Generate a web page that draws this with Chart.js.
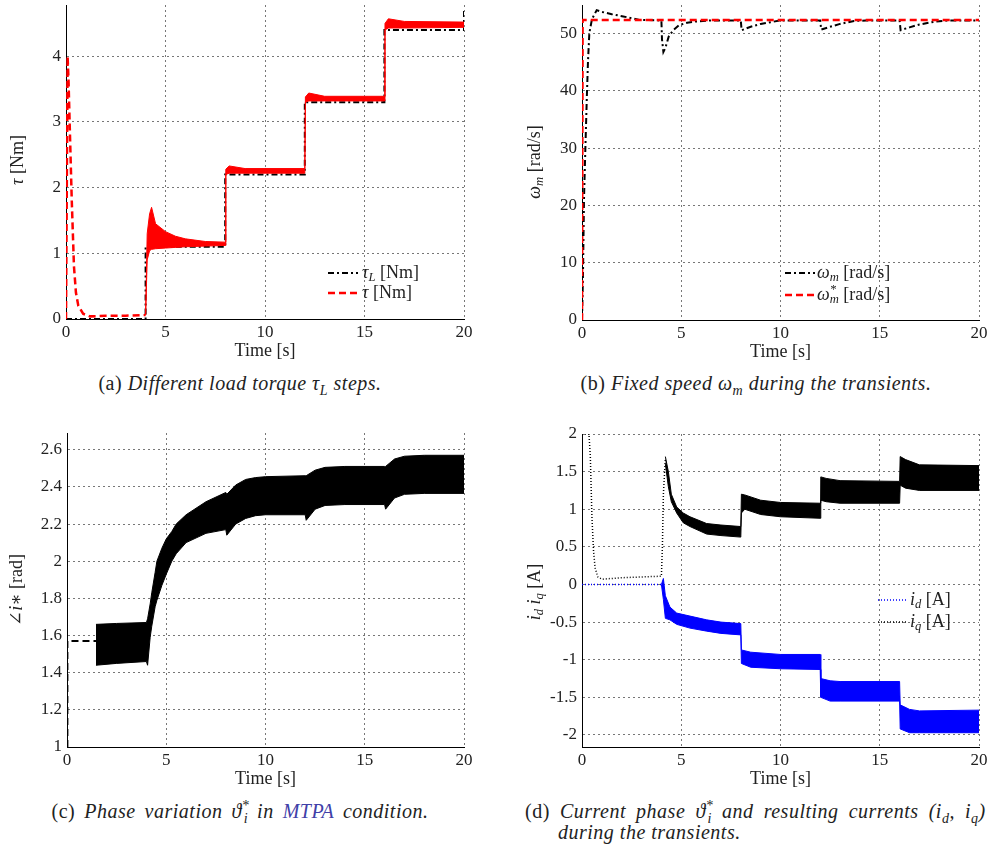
<!DOCTYPE html>
<html>
<head>
<meta charset="utf-8">
<title>Transients</title>
<script src="https://cdn.jsdelivr.net/npm/chart.js@4.4.1/dist/chart.umd.min.js"></script>
<style>
  body { margin: 0; background: #fff; }
  #page { position: relative; width: 990px; height: 852px; overflow: hidden; font-family: 'Liberation Serif', 'DejaVu Serif', serif; color: #222; }
  canvas { position: absolute; }
  .cap { position: absolute; font-size: 20px; letter-spacing: 0.5px; white-space: nowrap; line-height: 22px; }
  .cap sub, .cap sup { font-size: 0.7em; line-height: 0; }
  .link { color: #4040a8; }
</style>
</head>
<body>
<div id="page">
  <canvas id="chartA" width="480" height="370" style="left:0;top:0"></canvas>
  <canvas id="chartB" width="500" height="370" style="left:490px;top:0"></canvas>
  <canvas id="chartC" width="480" height="370" style="left:0;top:420px"></canvas>
  <canvas id="chartD" width="500" height="370" style="left:490px;top:420px"></canvas>
  <div class="cap" style="left:240px;top:372px;transform:translateX(-50%)">(a) <i>Different load torque τ<sub>L</sub> steps.</i></div>
  <div class="cap" style="left:756px;top:372px;transform:translateX(-50%)">(b) <i>Fixed speed ω<sub>m</sub> during the transients.</i></div>
  <div class="cap" style="left:240px;top:800px;transform:translateX(-50%);word-spacing:3.5px">(c) <i>Phase variation ϑ<sup>*</sup><sub style="margin-left:-0.4em">i</sub> in <span class="link">MTPA</span> condition.</i></div>
  <div class="cap" style="left:525px;top:800px;word-spacing:4.6px">(d) <i>Current phase ϑ<sup>*</sup><sub style="margin-left:-0.4em">i</sub> and resulting currents (i<sub>d</sub>, i<sub>q</sub>)</i></div>
  <div class="cap" style="left:558px;top:821px"><i>during the transients.</i></div>
</div>
<script>
const FONT = "'Liberation Serif', 'DejaVu Serif', serif";
const INK = '#222';
const GRID = '#777';
const DASHDOT = [6, 3, 2, 3];
const DASHED = [7, 4];
const DOTTED = [1, 2];

// (a) carico tau_L e coppia tau
const tauLTime = [0, 4, 4, 8, 8, 12, 12, 16, 16, 20, 20];
const tauLVal = [0, 0, 1.1, 1.1, 2.2, 2.2, 3.3, 3.3, 4.4, 4.4, 4.72];
const tauTime = [0, 0.08, 0.13, 0.2, 0.29, 0.4, 0.5, 0.62, 0.86, 1.2, 2, 3, 4];
const tauVal = [0, 4.0, 3.6, 2.8, 1.8, 0.8, 0.4, 0.2, 0.08, 0.04, 0.05, 0.05, 0.06];
const tauBandTime = [4.0, 4.08, 4.2, 4.3, 4.5, 5.0, 5.5, 6.0, 7.0, 8.0, 8.03, 8.2, 9, 12.0, 12.03, 12.2, 13, 16.0, 16.03, 16.2, 17, 20];
const tauBandHigh = [0.06, 1.3, 1.6, 1.7, 1.45, 1.33, 1.26, 1.22, 1.18, 1.17, 2.28, 2.33, 2.29, 2.29, 3.38, 3.44, 3.39, 3.39, 4.5, 4.57, 4.53, 4.52];
const tauBandLow = [0.06, 0.9, 1.04, 1.06, 1.07, 1.08, 1.09, 1.1, 1.11, 1.12, 2.2, 2.22, 2.22, 2.22, 3.3, 3.32, 3.32, 3.32, 4.4, 4.43, 4.43, 4.44];

// (b) velocita
const wRefTime = [0, 0.03, 20];
const wRefVal = [0, 52.36, 52.36];
const wTime = [0, 0.05, 0.1, 0.17, 0.24, 0.3, 0.37, 0.5, 0.74, 1.0, 1.5, 2.08, 2.9, 4.0, 4.03, 4.1, 4.2, 4.37, 4.6, 4.9, 5.3, 5.7, 6.5, 8.0, 8.04, 8.5, 9.0, 9.5, 10.0, 12.0, 12.05, 12.5, 13.0, 13.7, 14.3, 16.0, 16.05, 16.5, 17.0, 17.8, 18.5, 20];
const wVal = [0, 8, 21, 30, 38.5, 45, 50.1, 52.5, 54.1, 53.8, 53.4, 53.0, 52.4, 52.3, 49, 46.8, 47.5, 49.5, 50.6, 51.5, 51.9, 52.1, 52.3, 52.3, 50.6, 51.2, 51.7, 52.0, 52.3, 52.3, 50.7, 51.2, 51.7, 52.2, 52.3, 52.3, 50.6, 51.1, 51.6, 52.1, 52.3, 52.3];

// (c) fase della corrente
const angTime = [0.02, 0.02, 1.46];
const angVal = [1.0, 1.57, 1.57];
const angBandTime = [1.46, 2.5, 4.0, 4.06, 4.19, 4.27, 4.44, 4.53, 4.78, 5.0, 5.28, 5.5, 6.0, 7.0, 8.0, 8.05, 8.5, 9.0, 9.5, 10, 12.0, 12.05, 12.5, 13, 14, 16.0, 16.05, 16.5, 17, 18, 20];
const angBandHigh = [1.66, 1.665, 1.67, 1.69, 1.77, 1.83, 1.94, 2.0, 2.07, 2.12, 2.16, 2.2, 2.25, 2.32, 2.37, 2.36, 2.41, 2.44, 2.45, 2.455, 2.46, 2.46, 2.49, 2.505, 2.51, 2.51, 2.51, 2.55, 2.565, 2.57, 2.57];
const angBandLow = [1.44, 1.45, 1.46, 1.44, 1.59, 1.65, 1.755, 1.79, 1.87, 1.93, 2.0, 2.04, 2.1, 2.15, 2.17, 2.14, 2.2, 2.23, 2.245, 2.25, 2.25, 2.22, 2.28, 2.3, 2.305, 2.305, 2.28, 2.34, 2.36, 2.365, 2.365];

// (d) correnti id, iq
const iqTime = [0, 0.35, 0.42, 0.5, 0.58, 0.66, 0.8, 1.0, 2.0, 3.0, 4.0, 4.05, 4.1, 4.2];
const iqVal = [2.0, 2.0, 1.7, 0.9, 0.45, 0.22, 0.1, 0.07, 0.09, 0.1, 0.11, 0.5, 1.2, 1.68];
const iqBandTime = [4.2, 4.35, 4.5, 4.77, 5.1, 5.44, 6.28, 7.0, 8.0, 8.03, 8.2, 9, 10, 12.0, 12.03, 12.3, 13, 16.0, 16.03, 16.3, 17, 20];
const iqBandHigh = [1.7, 1.5, 1.2, 1.03, 0.95, 0.9, 0.81, 0.79, 0.77, 1.2, 1.19, 1.12, 1.09, 1.08, 1.43, 1.41, 1.38, 1.37, 1.70, 1.66, 1.59, 1.58];
const iqBandLow = [1.6, 1.3, 1.1, 0.95, 0.82, 0.77, 0.67, 0.65, 0.63, 0.95, 1.0, 0.93, 0.9, 0.88, 1.12, 1.1, 1.08, 1.08, 1.32, 1.28, 1.25, 1.25];
const idTime = [0, 4.0];
const idVal = [0, 0];
const idBandTime = [4.0, 4.1, 4.2, 4.43, 4.77, 5.44, 6.28, 7.0, 8.0, 8.03, 8.5, 10, 12.0, 12.03, 12.5, 13, 16.0, 16.03, 16.5, 17, 20];
const idBandHigh = [0, 0.08, -0.15, -0.3, -0.38, -0.42, -0.47, -0.5, -0.52, -0.87, -0.9, -0.93, -0.93, -1.25, -1.28, -1.29, -1.29, -1.6, -1.66, -1.68, -1.67];
const idBandLow = [0, -0.2, -0.45, -0.47, -0.53, -0.58, -0.62, -0.65, -0.67, -1.05, -1.1, -1.12, -1.13, -1.5, -1.55, -1.55, -1.55, -1.92, -1.97, -1.97, -1.97];

const pts = (xs, ys) => xs.map((x, i) => ({ x: x, y: ys[i] }));

function line(xs, ys, color, dash, width) {
    return { data: pts(xs, ys), borderColor: color, borderDash: dash, borderWidth: width, fill: false };
}

// banda di oscillazione: bordo alto + bordo basso riempito fino al precedente
function band(xs, hi, lo, color) {
    return [
        { data: pts(xs, hi), borderColor: color, borderWidth: 1, fill: false },
        { data: pts(xs, lo), borderColor: color, borderWidth: 1, backgroundColor: color, fill: '-1' }
    ];
}

// testo con pedici / apici: [testo, stile] n=normale i=corsivo b=pedice p=apice
function drawRuns(ctx, runs, x, y, size, draw) {
    let cx = x, supX = null;
    for (const [t, s] of runs) {
        const small = s === 'b' || s === 'p';
        const fs = small ? size * 0.7 : size;
        ctx.font = (s === 'n' ? '' : 'italic ') + fs + 'px ' + FONT;
        const w = ctx.measureText(t).width;
        let dx = cx, dy = 0;
        if (s === 'b') { dy = size * 0.28; if (supX !== null) dx = supX; }
        if (s === 'p') dy = -size * 0.32;
        if (draw) ctx.fillText(t, dx, y + dy);
        if (s === 'p') { supX = cx; cx += w; }
        else if (s === 'b' && supX !== null) { cx = Math.max(cx, supX + w); supX = null; }
        else { cx += w; supX = null; }
    }
    return cx - x;
}

function textPlugin(cfg) {
    return {
        id: 'texts',
        afterDraw(chart) {
            const ctx = chart.ctx;
            ctx.save();
            ctx.fillStyle = INK;
            ctx.textBaseline = 'middle';
            ctx.textAlign = 'left';
            const w = drawRuns(ctx, cfg.yTitle, 0, 0, 18, false);
            ctx.save();
            ctx.translate(cfg.yTitleAt[0], cfg.yTitleAt[1]);
            ctx.rotate(-Math.PI / 2);
            drawRuns(ctx, cfg.yTitle, -w / 2, 0, 18, true);
            ctx.restore();
            (cfg.legend || []).forEach(e => {
                ctx.save();
                ctx.strokeStyle = e.color;
                ctx.lineWidth = e.width;
                ctx.setLineDash(e.dash);
                ctx.beginPath();
                ctx.moveTo(cfg.legendX[0], e.y);
                ctx.lineTo(cfg.legendX[1], e.y);
                ctx.stroke();
                ctx.restore();
                drawRuns(ctx, e.label, cfg.legendX[2], e.y, 18, true);
            });
            ctx.restore();
        }
    };
}

function buildChart(id, box, yAxis, datasets, texts) {
    const canvas = document.getElementById(id);
    const W = canvas.width, H = canvas.height;
    const tickFont = { family: FONT, size: 17 };
    const grid = { color: GRID, lineWidth: 1, drawTicks: false };
    const border = { color: '#000', width: 1, dash: [2, 3] };
    return new Chart(canvas, {
        type: 'line',
        data: { datasets: datasets },
        options: {
            responsive: false,
            animation: false,
            devicePixelRatio: 1,
            layout: { padding: { left: 0, top: box.top, right: W - box.right, bottom: 0 } },
            plugins: { legend: { display: false }, tooltip: { enabled: false } },
            elements: { point: { radius: 0 }, line: { tension: 0 } },
            scales: {
                x: {
                    type: 'linear', min: 0, max: 20,
                    afterFit: s => { s.height = H - box.bottom; s.paddingLeft = 0; s.paddingRight = 0; },
                    ticks: { stepSize: 5, includeBounds: false, padding: 3, color: INK, font: tickFont, maxRotation: 0 },
                    grid: grid,
                    border: border,
                    title: { display: true, text: 'Time [s]', color: INK, font: { family: FONT, size: 18 },
                             padding: { top: 0, bottom: H - box.bottom - 32.5 - 10.8 } }
                },
                y: {
                    type: 'linear', min: yAxis.min, max: yAxis.max,
                    afterFit: s => { s.width = box.left; s.paddingTop = 0; s.paddingBottom = 0; },
                    ticks: { stepSize: yAxis.step, includeBounds: false, padding: 5, color: INK, font: tickFont,
                             callback: v => String(+v.toFixed(2)) },
                    grid: grid,
                    border: border
                }
            }
        },
        plugins: [textPlugin(texts)]
    });
}

// (a)
buildChart('chartA', { left: 66, top: 5, right: 464, bottom: 319 }, { min: 0, max: 4.78, step: 1 }, [
    line(tauTime, tauVal, '#ff0000', DASHED, 2.5),
    ...band(tauBandTime, tauBandHigh, tauBandLow, '#ff0000'),
    line(tauLTime, tauLVal, '#000', DASHDOT, 2)
], {
    yTitle: [['τ', 'i'], [' [Nm]', 'n']], yTitleAt: [18, 160],
    legendX: [328, 358, 362],
    legend: [
        { y: 273, color: '#000', dash: DASHDOT, width: 2, label: [['τ', 'i'], ['L', 'b'], [' [Nm]', 'n']] },
        { y: 293, color: '#ff0000', dash: DASHED, width: 2.5, label: [['τ', 'i'], [' [Nm]', 'n']] }
    ]
});

// (b)
buildChart('chartB', { left: 92, top: 5, right: 489, bottom: 320 }, { min: 0, max: 55, step: 10 }, [
    line(wRefTime, wRefVal, '#ff0000', DASHED, 2.5),
    line(wTime, wVal, '#000', DASHDOT, 2)
], {
    yTitle: [['ω', 'i'], ['m', 'b'], [' [rad/s]', 'n']], yTitleAt: [45, 162],
    legendX: [295, 325, 327],
    legend: [
        { y: 273, color: '#000', dash: DASHDOT, width: 2, label: [['ω', 'i'], ['m', 'b'], [' [rad/s]', 'n']] },
        { y: 295, color: '#ff0000', dash: DASHED, width: 2.5, label: [['ω', 'i'], ['*', 'p'], ['m', 'b'], [' [rad/s]', 'n']] }
    ]
});

// (c)
buildChart('chartC', { left: 67, top: 13, right: 464, bottom: 327 }, { min: 1, max: 2.69, step: 0.2 }, [
    ...band(angBandTime, angBandHigh, angBandLow, '#000'),
    line(angTime, angVal, '#000', DASHED, 2)
], {
    yTitle: [['∠', 'n'], ['i∗', 'i'], [' [rad]', 'n']], yTitleAt: [17, 170]
});

// (d)
buildChart('chartD', { left: 92, top: 14, right: 489, bottom: 327 }, { min: -2.16, max: 2, step: 0.5 }, [
    line(idTime, idVal, '#0000ff', DOTTED, 1.5),
    ...band(idBandTime, idBandHigh, idBandLow, '#0000ff'),
    line(iqTime, iqVal, '#000', DOTTED, 1.5),
    ...band(iqBandTime, iqBandHigh, iqBandLow, '#000')
], {
    yTitle: [['i', 'i'], ['d', 'b'], [' i', 'i'], ['q', 'b'], [' [A]', 'n']], yTitleAt: [45, 172],
    legendX: [388, 417, 420],
    legend: [
        { y: 180, color: '#0000ff', dash: DOTTED, width: 1.5, label: [['i', 'i'], ['d', 'b'], [' [A]', 'n']] },
        { y: 202, color: '#000', dash: DOTTED, width: 1.5, label: [['i', 'i'], ['q', 'b'], [' [A]', 'n']] }
    ]
});
</script>
</body>
</html>
